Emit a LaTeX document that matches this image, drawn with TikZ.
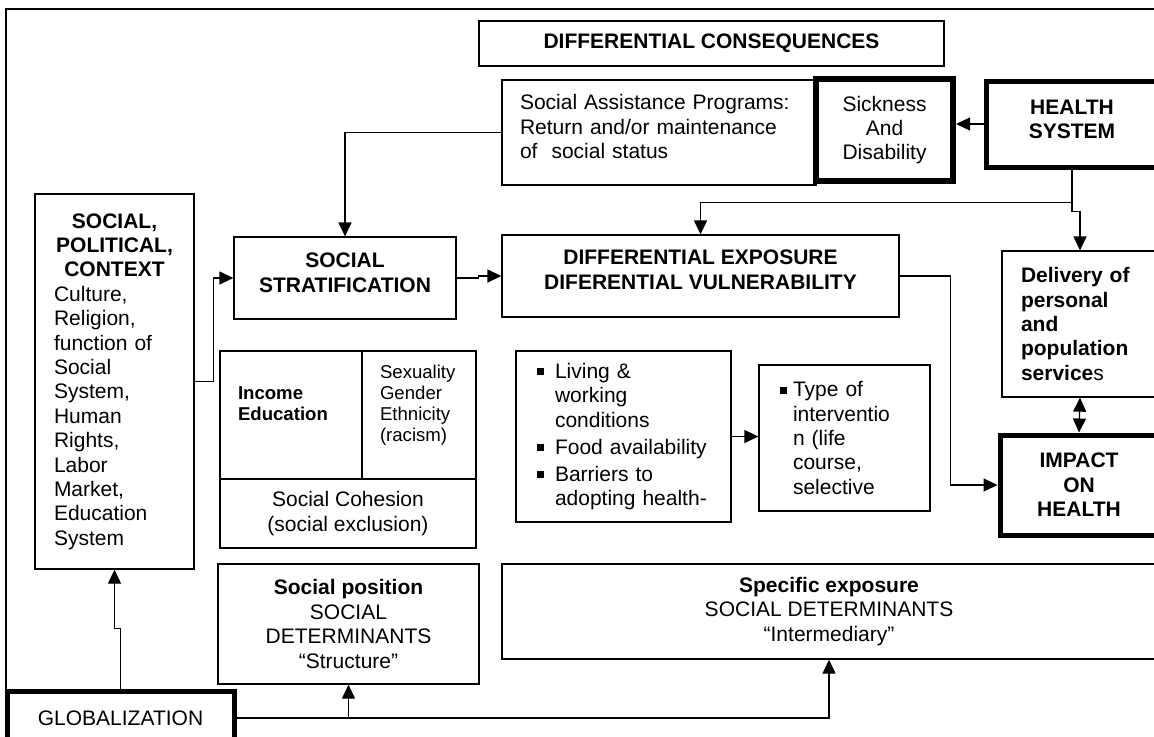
\documentclass[tikz,border=0pt]{standalone}
\usepackage{fontspec}
\setmainfont{Liberation Sans}
\usetikzlibrary{arrows.meta}
\newcommand{\nfont}{\fontsize{10.5}{12.2}\selectfont}
\newcommand{\smfont}{\fontsize{9.3}{10.5}\selectfont}
\newcommand{\sq}[1][9pt]{\makebox[#1][l]{\rule[1.6pt]{3.5pt}{3.5pt}}}
\begin{document}
\begin{tikzpicture}[x=.5pt,y=-.5pt,>={Triangle[length=7pt,width=6.5pt]},
  every node/.style={font=\nfont},
  box/.style={draw,line width=.65pt,inner sep=0pt,align=center},
  fat/.style={box,line width=2.5pt},
  hd/.style={font=\nfont\bfseries},
  sm/.style={font=\smfont},
  conn/.style={line width=.65pt,->}]
\useasboundingbox (0,0) rectangle (1154,736);
\clip (0,0) rectangle (1154,736);
\draw[line width=.65pt] (6,690) -- (6,9) -- (1170,9);
%
% top row
\node[box,hd,minimum width=232.5pt,minimum height=22.5pt] (conseq) at (711.5,43.5) {DIFFERENTIAL CONSEQUENCES};
\node[box,align=left,text width=139pt,inner xsep=9pt,minimum height=52.5pt,text depth=30.5pt] (assist) at (659,132.5)
  {Social Assistance Programs:\\Return and/or maintenance\\of\ \ social status};
\node[fat,line width=3pt,minimum width=68.5pt,minimum height=51pt] (sick) at (884.5,130) {Sickness\\And\\Disability};
\node[fat,hd,minimum width=86pt,minimum height=43pt,text depth=5pt] (health) at (1072,124) {HEALTH\\SYSTEM};
%
% middle
\node[box,align=left,text width=60.5pt,inner xsep=9.5pt,minimum height=187.5pt] (context) at (114.5,381.5)
  {{\centering\bfseries SOCIAL,\\POLITICAL,\\CONTEXT\par}Culture,\\Religion,\\function of\\Social\\System,\\Human\\Rights,\\Labor\\Market,\\Education\\System};
\node[box,hd,minimum width=111pt,minimum height=41pt,text depth=5.5pt] (strat) at (345,278) {SOCIAL\\STRATIFICATION};
\node[box,hd,minimum width=198.5pt,minimum height=41pt,text depth=6.5pt] (expo) at (700.5,276) {DIFFERENTIAL EXPOSURE\\DIFERENTIAL VULNERABILITY};
\node[box,align=left,font=\smfont\bfseries,text width=53pt,inner xsep=9pt,minimum height=64pt,text depth=21.5pt] (income) at (291,415) {Income\\Education};
\node[box,sm,align=left,text width=39pt,inner xsep=9pt,minimum height=64pt,text depth=43pt] (sexual) at (419,415) {Sexuality\\Gender\\Ethnicity\\(racism)};
\node[box,minimum width=128pt,minimum height=34.5pt] (cohesion) at (348,513.5) {Social Cohesion\\(social exclusion)};
\node[box,align=left,text width=86.5pt,inner xsep=10.5pt,minimum height=85.5pt] (living) at (623.5,436.5)
  {\sq Living \&\\\hspace*{9pt}working\\\hspace*{9pt}conditions\\[1.3pt]\sq Food availability\\[1.3pt]\sq Barriers to\\\hspace*{9pt}adopting health-};
\node[box,align=left,text width=64.5pt,inner xsep=10.5pt,minimum height=73pt] (type) at (844.5,438)
  {\sq[6.5pt]Type of\\\hspace*{6.5pt}interventio\\\hspace*{6.5pt}n (life\\\hspace*{6.5pt}course,\\\hspace*{6.5pt}selective};
\node[box,hd,align=left,text width=59pt,inner xsep=9.5pt,minimum height=73pt] (deliv) at (1080,324)
  {Delivery of\\personal\\and\\population\\service\mdseries s};
\node[fat,hd,minimum width=79pt,minimum height=50pt] (impact) at (1079,485) {IMPACT\\ON\\HEALTH};
%
% bottom row
\node[box,minimum width=130.5pt,minimum height=60pt] (position) at (348.5,624)
  {\textbf{Social position}\\SOCIAL\\DETERMINANTS\\“Structure”};
\node[box,minimum width=327pt,minimum height=47.5pt] (specific) at (829,611.5)
  {\textbf{Specific exposure}\\SOCIAL DETERMINANTS\\“Intermediary”};
\node[fat,minimum width=113.5pt,minimum height=27pt] (glob) at (120.5,718) {GLOBALIZATION};
%
% connectors
\draw[conn] (assist.west) -| (strat.north);
\draw[conn] (health.west) -- (health.west -| sick.east);
\draw[conn] (health.south) -- ++(0,33) -| (expo.north);
\draw[conn] (health.south) -- ++(0,42) -| (deliv.north);
\draw[conn] (strat.east) -- ++(22,0) |- (expo.west);
\draw[conn] (context.east) -- ++(19,0) |- (strat.west);
\draw[conn] (expo.east) -- ++(51,0) |- (impact.west);
\draw[conn] (living.east) -- (living.east -| type.west);
\draw[conn,<->] (deliv.south) -- (impact.north);
\draw[conn] (glob.east) -| (specific.south);
\draw[conn] (position.south |- glob.east) -- (position.south);
\draw[conn] (glob.north) -- ++(0,-60) -| (context.south);
\end{tikzpicture}
\end{document}
